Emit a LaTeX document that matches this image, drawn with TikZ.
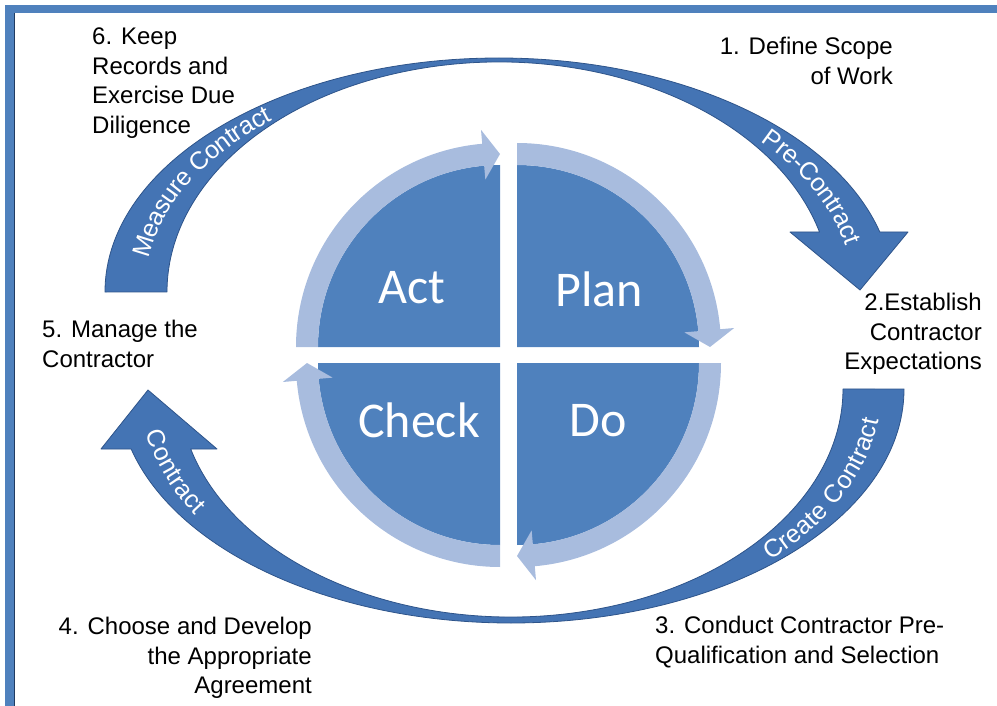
\documentclass[tikz,border=0pt]{standalone}
\usepackage{fontspec}
\setmainfont{Liberation Sans}
\newfontfamily\quadfont{Carlito}
\usetikzlibrary{calc,decorations.text}

\definecolor{frameblue}{RGB}{79,129,189}
\definecolor{quadblue}{RGB}{79,129,189}
\definecolor{ringblue}{RGB}{168,188,222}
\definecolor{arrowblue}{RGB}{68,116,180}
\definecolor{arrowedge}{RGB}{46,84,138}

\begin{document}
\begin{tikzpicture}[x=1pt,y=-1pt,
steptext/.style={font=\fontsize{24}{29.5}\selectfont, inner sep=0pt},
quadlabel/.style={font=\quadfont\fontsize{50}{50}\selectfont, text=white, inner sep=0pt},
bigarrow/.style={fill=arrowblue, draw=arrowedge, line width=.8pt, line join=round},
arrowlabel/.style={decorate, decoration={text along path, text align=center,
  text color=white, raise=-8.5pt, text={|\fontsize{25}{25}\selectfont|#1}}}]
\useasboundingbox (0,0) rectangle (997,706);
% frame, only the top and left edges show
\fill[frameblue] (5,5) rectangle (997,13);
\fill[frameblue] (5,5) rectangle (14,706);
\draw[arrowedge!70!black, line width=.6pt] (14.3,13) -- (14.3,706);

\coordinate (topc) at (499,292);
\coordinate (botc) at (511,389);
\coordinate (cplan) at (517,347);
\coordinate (cdo) at (517,363);
\coordinate (ccheck) at (500,363);
\coordinate (cact) at (500,347);

% the two big curved arrows
\filldraw[bigarrow] (topc) ++(180:394 and 234) arc[start angle=180, end angle=345.14, x radius=394, y radius=234]
  -- (908,232) -- (860,290) -- (790,232) -- (819.5,232)
  arc[start angle=344.88, end angle=180, x radius=332, y radius=230] -- cycle;
\filldraw[bigarrow] (botc) ++(0:393 and 234) arc[start angle=0, end angle=165.14, x radius=393, y radius=234]
  -- (101,449) -- (148,390) -- (217,449) -- (190.7,449)
  arc[start angle=164.74, end angle=0, x radius=332, y radius=228] -- cycle;

\path[arrowlabel=Measure Contract] (topc) ++(180:363 and 232) arc[start angle=180, end angle=237, x radius=363, y radius=232];
\path[arrowlabel=Pre-Contract] (topc) ++(311:363 and 232) arc[start angle=311, end angle=356, x radius=363, y radius=232];
\path[arrowlabel=Create Contract] (botc) ++(53:362.5 and 231) arc[start angle=53, end angle=-3, x radius=362.5, y radius=231];
\path[arrowlabel=Contract] (botc) ++(179:362.5 and 231) arc[start angle=179, end angle=141, x radius=362.5, y radius=231];

% PDCA quarters with their light arrows
\foreach \c/\a in {cplan/270, cdo/0, ccheck/90, cact/180} {
  \fill[quadblue] (\c) -- ++(\a:182) arc[start angle=\a, delta angle=90, radius=182] -- cycle;
  \fill[ringblue] (\c) ++(\a:182) arc[start angle=\a, delta angle=85, radius=182]
    -- ($(\c)+(\a+85:168)$) -- ($(\c)+(\a+90:193)$) -- ($(\c)+(\a+85:218)$) -- ($(\c)+(\a+85:204)$)
    arc[start angle=\a+85, delta angle=-85, radius=204] -- cycle;
}
\node[quadlabel] (act) at (412,288) {Act};
\node[quadlabel] (plan) at (599,289) {Plan};
\node[quadlabel] (check) at (419,420) {Check};
\node[quadlabel] (do) at (598,421) {Do};

\node[steptext, align=right, anchor=east] (step1) at (893,61) {1. Define Scope\\of Work};
\node[steptext, align=right, anchor=east] (step2) at (982,334) {2.Establish\\Contractor\\Expectations};
\node[steptext, align=left, anchor=west] (step3) at (655,642) {3. Conduct Contractor Pre-\\Qualification and Selection};
\node[steptext, align=right, anchor=east] (step4) at (312,658) {4. Choose and Develop\\the Appropriate\\Agreement};
\node[steptext, align=left, anchor=west] (step5) at (42,344) {5. Manage the\\Contractor};
\node[steptext, align=left, anchor=west] (step6) at (92,83) {6. Keep\\Records and\\Exercise Due\\Diligence};
\end{tikzpicture}
\end{document}
